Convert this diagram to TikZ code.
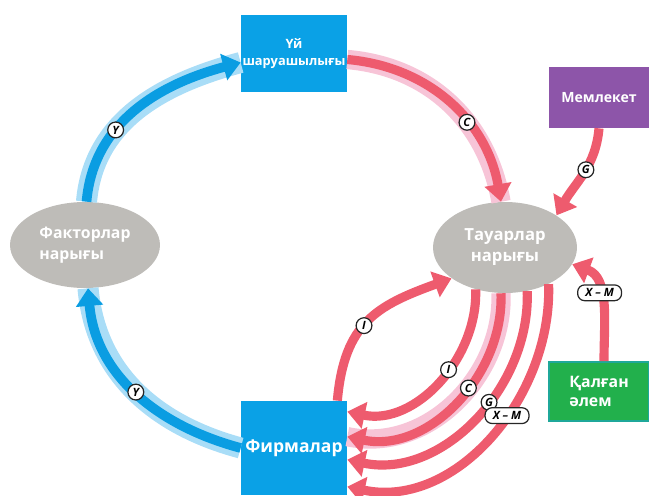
\documentclass[tikz,border=0pt]{standalone}
\usepackage{fontspec}
\setmainfont{Open Sans}
\usetikzlibrary{arrows.meta,shapes.geometric}
\definecolor{boxblue}{HTML}{0AA1E6}
\definecolor{flowblue}{HTML}{0A9DE2}
\definecolor{haloblue}{HTML}{A9DDF7}
\definecolor{flowred}{HTML}{EE5B6E}
\definecolor{halored}{HTML}{F7C4D7}
\definecolor{govpurple}{HTML}{8D55A9}
\definecolor{worldgreen}{HTML}{22B04C}
\definecolor{worldedge}{HTML}{1FA89A}
\definecolor{marketgray}{HTML}{BEBCB8}
\begin{document}
\begin{tikzpicture}[x=0.02cm, y=0.02cm]
        \tikzstyle{box}=[rectangle, inner sep=0pt, text=white, font=\bfseries]
        \tikzstyle{market}=[ellipse, fill=marketgray, inner sep=0pt, text=white, font=\bfseries\fontsize{9}{12}\selectfont]
        \tikzstyle{blueflow}=[draw=flowblue, line width=5.5pt, -{Triangle[width=15pt,length=10pt]}, preaction={draw=haloblue, line width=12pt, -}]
        \tikzstyle{redflow}=[draw=flowred, line width=5.2pt, -{Triangle[width=15pt,length=10pt]}]
        \tikzstyle{halo}=[preaction={draw=halored, line width=11pt, -}]
        \tikzstyle{tag}=[circle, draw=black!85, text=black, fill=white, line width=0.7pt, inner sep=0pt, minimum size=9pt, font=\fontsize{6.5}{7}\selectfont\bfseries\itshape]
        \tikzstyle{wtag}=[tag, rectangle, rounded corners=4pt, minimum width=25pt]

        \useasboundingbox (0,0) rectangle (649,495);

        \node[box, fill=boxblue, minimum width=2.12cm, minimum height=1.54cm, align=center, font=\bfseries\fontsize{7.3}{9.5}\selectfont] (home) at (294,441.5) {Үй\\шаруашылығы};
        \node[box, fill=boxblue, minimum width=2.12cm, minimum height=1.88cm, font=\bfseries\fontsize{10}{12}\selectfont] (firms) at (294,47) {Фирмалар};
        \node[box, fill=govpurple, minimum width=2cm, minimum height=1.22cm, font=\bfseries\fontsize{8}{10}\selectfont] (gov) at (599,397.5) {Мемлекет};
        \node[box, fill=worldgreen, draw=worldedge, line width=1pt, minimum width=2cm, minimum height=1.18cm, align=left, font=\bfseries\fontsize{9}{11}\selectfont] (world) at (599,103.5) {Қалған\\әлем};
        \node[market, minimum width=3cm, minimum height=1.72cm, align=left] (factors) at (85,250) {Факторлар\\нарығы};
        \node[market, minimum width=2.88cm, minimum height=1.82cm, align=center, font=\bfseries\fontsize{9.5}{12}\selectfont] (goods) at (505,247.5) {Тауарлар\\нарығы};

        % blue circuit
        \draw[blueflow] (factors.88) to[out=85, in=195] node[tag, pos=0.36] {Y} ([yshift=-0.18cm]home.west);
        \draw[blueflow] (firms.west) to[out=165, in=-85] node[tag, pos=0.5] {Y} (factors.-86);

        % red flows into goods market
        \draw[redflow, halo] ([yshift=-0.12cm]home.east) to[out=-5, in=100] node[tag, pos=0.62] {C} (goods.95);
        \draw[redflow] (gov.south) to[out=-95, in=60] node[tag, pos=0.45] {G} (goods.32);
        \draw[redflow] ([xshift=0.1cm]world.north) to[out=90, in=-20] node[wtag, pos=0.6] {X – M} (goods.-14);
        \draw[redflow] ([xshift=-0.2cm]firms.north east) to[out=85, in=200, looseness=1.2] node[tag, pos=0.45] {I} (goods.-150);

        % red flows into firms
        \draw[redflow] (goods.-125) to[out=-88, in=-12] node[tag, pos=0.42] {I} ([yshift=-0.22cm]firms.north east);
        \draw[redflow, halo] (goods.-95) to[out=-88, in=-12] node[tag, pos=0.42] {C} ([yshift=-0.72cm]firms.north east);
        \draw[redflow] (goods.-63) to[out=-88, in=-12] node[tag, pos=0.42] {G} ([yshift=-1.18cm]firms.north east);
        \draw[redflow] (goods.-40) to[out=-88, in=-12] node[wtag, pos=0.42] {X – M} ([yshift=-1.72cm]firms.north east);
\end{tikzpicture}
\end{document}
